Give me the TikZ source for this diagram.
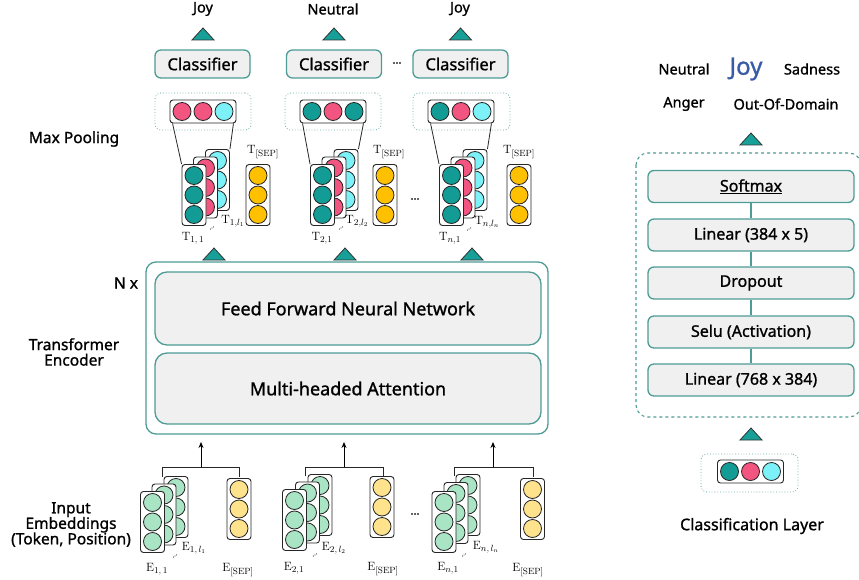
\documentclass[tikz,border=0pt]{standalone}
\usepackage[no-math]{fontspec}
\setmainfont{Noto Sans}[FakeBold=1.1]
\usetikzlibrary{calc,arrows.meta}
\definecolor{tealb}{HTML}{4E9C96}
\definecolor{boxgray}{HTML}{F0F0F0}
\definecolor{tritl}{HTML}{17A098}
\definecolor{ctl}{HTML}{139C95}
\definecolor{cpk}{HTML}{F2557F}
\definecolor{ccy}{HTML}{7DF1F8}
\definecolor{cor}{HTML}{FFC000}
\definecolor{cgr}{HTML}{A9E4C5}
\definecolor{cyl}{HTML}{FFE28C}
\definecolor{joyb}{HTML}{3A5BA6}
\newcommand\myfs[1]{\fontsize{#1}{#1}\selectfont}
\newcommand\tokvec[6]{%
  \node[vecframe] (#1) at (#2,#3) {};
  \node[dot,fill=#4] (#1a) at ($(#1)+(0,-19.5)$) {};
  \node[dot,fill=#5] (#1b) at (#1) {};
  \node[dot,fill=#6] (#1c) at ($(#1)+(0,19.5)$) {};}
\newcommand\poolvec[6]{%
  \node[hvec] (#1) at (#2,#3) {};
  \node[dot,fill=#4] (#1a) at ($(#1)+(-21,0)$) {};
  \node[dot,fill=#5] (#1b) at (#1) {};
  \node[dot,fill=#6] (#1c) at ($(#1)+(21,0)$) {};}
\newcommand\tri[2]{\draw[tri] ({#1-11},#2) -- (#1,{#2-12}) -- ({#1+11},#2) -- cycle;}
\begin{document}
\begin{tikzpicture}[x=1pt,y=-1pt,
  lbl/.style={font=\myfs{15.5}, inner sep=0},
  toplbl/.style={font=\myfs{14.5}, inner sep=0},
  tl/.style={font=\myfs{12.5}, inner sep=0},
  frame/.style={draw=tealb, line width=1.3pt, fill=boxgray, rounded corners=6pt, inner sep=0},
  cls/.style={frame, minimum width=95pt, minimum height=28pt, font=\myfs{16.5}},
  layer/.style={frame, minimum width=206pt, minimum height=32pt, font=\myfs{16}},
  vecframe/.style={draw=black!85, line width=0.9pt, fill=white, rounded corners=3pt, minimum width=24pt, minimum height=61pt, inner sep=0},
  hvec/.style={draw=black!85, line width=0.9pt, fill=white, rounded corners=3pt, minimum width=66pt, minimum height=23pt, inner sep=0},
  dot/.style={circle, draw=black!85, line width=0.8pt, minimum size=18pt, inner sep=0},
  tri/.style={draw=black!80, fill=tritl, line width=0.8pt, line join=miter},
  pool/.style={draw=tealb!85, dotted, line width=0.8pt, rounded corners=6pt, inner sep=0},
  plink/.style={draw=black!85, line width=0.8pt},
  brk/.style={draw=black!85, line width=0.8pt},
  arr/.style={draw=black, line width=0.8pt, -{Stealth[length=6pt,width=5pt]}},
  ell/.style={font=\myfs{11}, inner sep=0},
  tdots/.style={font=\myfs{7}, inner sep=0, rotate=35, text=black!60}
]
\clip (0,0) rectangle (859,580);
\fill[white] (0,0) rectangle (859,580);

% ---------- top outputs ----------
\node[toplbl] (o1) at (203,9) {Joy};
\node[toplbl] (o2) at (333,9) {Neutral};
\node[toplbl] (o3) at (460,9) {Joy};
\tri{203}{40} \tri{334}{40} \tri{460.5}{40}
\node[cls] (c1) at (202.5,64) {Classifier};
\node[cls] (c2) at (334,64) {Classifier};
\node[cls] (c3) at (460.5,64) {Classifier};
\node[ell] (cd) at (397,63) {...};

% ---------- max pooling ----------
\node[lbl] (mp) at (74,139) {Max Pooling};
\node[pool, minimum width=96pt, minimum height=37pt] (d1) at (203,111.5) {};
\node[pool, minimum width=96pt, minimum height=37pt] (d2) at (333,111.5) {};
\node[pool, minimum width=97pt, minimum height=37pt] (d3) at (461.5,111.5) {};
\poolvec{p1}{203}{111.5}{cpk}{cpk}{ccy}
\poolvec{p2}{333}{111.5}{ctl}{cpk}{ctl}
\poolvec{p3}{461}{111.5}{ctl}{cpk}{ccy}

% column 1
\tokvec{s1c}{217.5}{180}{ccy}{ccy}{ccy}
\tokvec{s1b}{205.5}{187.5}{cpk}{cpk}{cpk}
\tokvec{s1a}{194}{195}{ctl}{ctl}{ctl}
\tokvec{sep1}{258}{195}{cor}{cor}{cor}
\draw[plink] ($(p1.south west)+(3,0)$) -- (s1a.north west);
\draw[plink] ($(p1.south east)+(-3,0)$) -- (s1c.north east);
\node[tl] (t1a) at (193,238) {$\mathrm{T}_{1,\,1}$};
\node[tl] (t1l) at (233,221) {$\mathrm{T}_{1,l_1}$};
\node[tl] (t1s) at (263,152) {$\mathrm{T}_{[\mathrm{SEP}]}$};
\node[tdots] (t1d) at (212,228) {...};

% column 2
\tokvec{s2c}{346}{180}{ccy}{ccy}{ccy}
\tokvec{s2b}{334}{187.5}{cpk}{cpk}{cpk}
\tokvec{s2a}{322.5}{195}{ctl}{ctl}{ctl}
\tokvec{sep2}{385}{195}{cor}{cor}{cor}
\draw[plink] ($(p2.south west)+(3,0)$) -- (s2a.north west);
\draw[plink] ($(p2.south east)+(-3,0)$) -- (s2c.north east);
\node[tl] (t2a) at (322,238) {$\mathrm{T}_{2,1}$};
\node[tl] (t2l) at (357,221) {$\mathrm{T}_{2,l_2}$};
\node[tl] (t2s) at (389,152) {$\mathrm{T}_{[\mathrm{SEP}]}$};
\node[tdots] (t2d) at (341,228) {...};

% column 3
\tokvec{s3c}{475}{180}{ccy}{ccy}{ccy}
\tokvec{s3b}{463}{187.5}{cpk}{cpk}{cpk}
\tokvec{s3a}{451.5}{195}{ctl}{ctl}{ctl}
\tokvec{sep3}{519}{195}{cor}{cor}{cor}
\draw[plink] ($(p3.south west)+(3,0)$) -- (s3a.north west);
\draw[plink] ($(p3.south east)+(-3,0)$) -- (s3c.north east);
\node[tl] (t3a) at (450,238) {$\mathrm{T}_{n,1}$};
\node[tl] (t3l) at (487,222) {$\mathrm{T}_{n,l_n}$};
\node[tl] (t3s) at (519,152) {$\mathrm{T}_{[\mathrm{SEP}]}$};
\node[tdots] (t3d) at (469,229) {...};
\node[ell] (sd) at (415,199) {...};

% ---------- transformer encoder ----------
\tri{214}{260} \tri{345}{260} \tri{472}{260}
\node[draw=tealb, line width=1.3pt, rounded corners=10pt, minimum width=402pt, minimum height=172pt, inner sep=0] (enc) at (347,348) {};
\node[frame, rounded corners=12pt, minimum width=386pt, minimum height=73pt, font=\myfs{18}] (ffn) at (348,308.5) {Feed Forward Neural Network};
\node[frame, rounded corners=12pt, minimum width=386pt, minimum height=71pt, font=\myfs{18}] (mha) at (348,388.5) {Multi-headed Attention};
\node[lbl] (nx) at (126,283) {N x};
\node[lbl, align=center] (te) at (74,352) {Transformer\\[0pt]Encoder};

% ---------- input embeddings ----------
\node[lbl, align=center] (ie) at (71,524.5) {Input\\[0pt]Embeddings\\[0pt](Token, Position)};

% column 1
\tokvec{e1c}{176}{507}{cgr}{cgr}{cgr}
\tokvec{e1b}{164}{514.5}{cgr}{cgr}{cgr}
\tokvec{e1a}{152.5}{522}{cgr}{cgr}{cgr}
\tokvec{es1}{239}{509}{cyl}{cyl}{cyl}
\coordinate (b1l) at (162,477);
\coordinate (b1r) at (239,477);
\coordinate (b1m) at (201,467);
\coordinate (b1t) at (201,442);
\draw[brk] (b1l) -- (162,467) -- (239,467) -- (b1r);
\draw[arr] (b1m) -- (b1t);
\node[tl] (e1al) at (157,569) {$\mathrm{E}_{1,\,1}$};
\node[tl] (e1ll) at (194,548) {$\mathrm{E}_{1,\,l_1}$};
\node[tl] (e1sl) at (238,570) {$\mathrm{E}_{[\mathrm{SEP}]}$};
\node[tdots] (e1d) at (175,556) {...};

% column 2
\tokvec{e2c}{320}{505}{cgr}{cgr}{cgr}
\tokvec{e2b}{307.5}{512.5}{cgr}{cgr}{cgr}
\tokvec{e2a}{294.5}{520}{cgr}{cgr}{cgr}
\tokvec{es2}{382}{507}{cyl}{cyl}{cyl}
\coordinate (b2l) at (305,476);
\coordinate (b2r) at (383,476);
\coordinate (b2m) at (344,467);
\coordinate (b2t) at (344,442);
\draw[brk] (b2l) -- (305,467) -- (383,467) -- (b2r);
\draw[arr] (b2m) -- (b2t);
\node[tl] (e2al) at (294,568) {$\mathrm{E}_{2,1}$};
\node[tl] (e2ll) at (334,548) {$\mathrm{E}_{2,\,l_2}$};
\node[tl] (e2sl) at (383,569) {$\mathrm{E}_{[\mathrm{SEP}]}$};
\node[tdots] (e2d) at (315,555) {...};

% column 3
\tokvec{e3c}{468}{505}{cgr}{cgr}{cgr}
\tokvec{e3b}{456}{513}{cgr}{cgr}{cgr}
\tokvec{e3a}{444}{522}{cgr}{cgr}{cgr}
\tokvec{es3}{532.5}{509}{cyl}{cyl}{cyl}
\coordinate (b3l) at (454,476);
\coordinate (b3r) at (533,477);
\coordinate (b3m) at (493,467);
\coordinate (b3t) at (493,442);
\draw[brk] (b3l) -- (454,467) -- (533,467) -- (b3r);
\draw[arr] (b3m) -- (b3t);
\node[tl] (e3al) at (448,568) {$\mathrm{E}_{n,1}$};
\node[tl] (e3ll) at (486,547) {$\mathrm{E}_{n,\,l_n}$};
\node[tl] (e3sl) at (528,570) {$\mathrm{E}_{[\mathrm{SEP}]}$};
\node[tdots] (e3d) at (464,555) {...};
\node[ell] (ed) at (415,514) {...};

% ---------- right panel ----------
\node[toplbl] (rn) at (684,69) {Neutral};
\node[font=\myfs{24}, text=joyb, inner sep=0] (rj) at (746,69) {Joy};
\node[toplbl] (rs) at (812,69) {Sadness};
\node[toplbl] (ra) at (684,104) {Anger};
\node[toplbl] (ro) at (786,104) {Out-Of-Domain};
\tri{751}{145}
\draw[draw=tealb, dashed, line width=1.1pt, rounded corners=12pt] (636,153) rectangle (861,417);
\node[layer] (l1) at (751,186.5) {\underline{Softmax}};
\node[layer] (l2) at (751,235) {Linear (384 x 5)};
\node[layer] (l3) at (751,283) {Dropout};
\node[layer] (l4) at (751,332) {Selu (Activation)};
\node[layer] (l5) at (751,380) {Linear (768 x 384)};
\foreach \a/\b in {l1/l2,l2/l3,l3/l4,l4/l5}
  \draw[tealb, line width=1.3pt] (\a.south) -- (\b.north);
\tri{751}{440}
\node[pool, minimum width=97pt, minimum height=38pt] (rd) at (749.5,473) {};
\poolvec{rp}{750.5}{471.5}{ctl}{cpk}{ccy}
\node[font=\myfs{16}, inner sep=0] (cl) at (752,526) {Classification Layer};
\end{tikzpicture}
\end{document}
